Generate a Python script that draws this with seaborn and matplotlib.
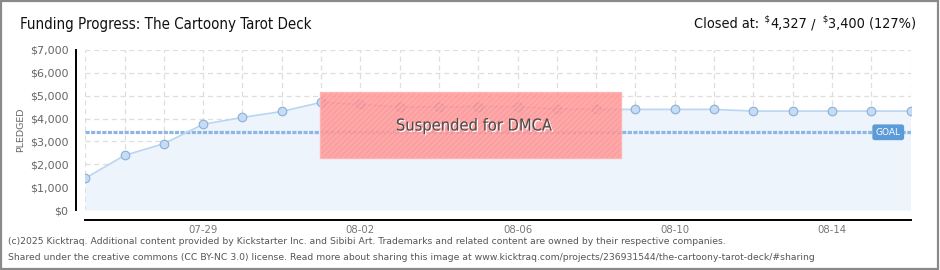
import matplotlib
matplotlib.use("Agg")
import matplotlib.pyplot as plt
import matplotlib.patches as mpatches
import matplotlib.patheffects as pe
import matplotlib.transforms as mtransforms
import seaborn as sns
import pandas as pd
from matplotlib.ticker import FuncFormatter, MultipleLocator

# ---------------- data ----------------
dates = ["07-26", "07-27", "07-28", "07-29", "07-30", "07-31", "08-01", "08-02",
         "08-03", "08-04", "08-05", "08-06", "08-07", "08-08", "08-09", "08-10",
         "08-11", "08-12", "08-13", "08-14", "08-15", "08-16"]
pledged = [1390, 2390, 2900, 3750, 4050, 4310, 4710, 4620,
           4510, 4510, 4520, 4520, 4420, 4400, 4400, 4400,
           4400, 4327, 4327, 4327, 4327, 4327]
goal = 3400
closed_amount = "4,327"
goal_amount = "3,400"
percent = "(127%)"
title = "Funding Progress: The Cartoony Tarot Deck"
suspended_label = "Suspended for DMCA"
label_every = 4
label_start = 3
footer1 = ("(c)2025 Kicktraq. Additional content provided by Kickstarter Inc. and Sibibi Art. "
           "Trademarks and related content are owned by their respective companies.")
footer2 = ("Shared under the creative commons (CC BY-NC 3.0) license. Read more about sharing this "
           "image at www.kicktraq.com/projects/236931544/the-cartoony-tarot-deck/#sharing")

df = pd.DataFrame({"day": range(len(dates)), "pledged": pledged})

# ---------------- style ----------------
sns.set_style("white")
plt.rcParams["font.family"] = ["DejaVu Sans"]
plt.rcParams["hatch.linewidth"] = 1.0
HEAD = ["DejaVu Sans"]
STRETCH = "condensed"

W, H = 940, 270
fig = plt.figure(figsize=(W / 100, H / 100), dpi=100)
ax = fig.add_axes([85.3 / W, 1 - 210 / H, (910.5 - 85.3) / W, 160 / H])

# area fill + line with markers
ax.fill_between(df["day"], df["pledged"], 0, color="#edf4fc", zorder=1, linewidth=0)
sns.lineplot(data=df, x="day", y="pledged", ax=ax, color="#b9d5f2", linewidth=1.2,
             marker="o", markersize=6.2, markerfacecolor="#c4dcf6",
             markeredgecolor="#8eaed3", markeredgewidth=0.8, zorder=3)

# goal line
ax.axhline(goal, color="#8fb6e0", linewidth=2.3, linestyle=(0, (1.3, 0.45)), zorder=2)

ax.set_xlim(0, len(dates) - 1)
ax.set_ylim(0, 7000)
ax.set_xlabel("")
ax.set_ylabel("PLEDGED", fontsize=6.8, color="#666666", labelpad=3)

# grid
ax.set_xticks(range(len(dates)))
ax.yaxis.set_major_locator(MultipleLocator(1000))
ax.yaxis.set_minor_locator(MultipleLocator(500))
ax.grid(True, which="major", color="#dedede", linestyle=(0, (4, 3)), linewidth=0.9)
ax.set_axisbelow(True)

ax.set_xticklabels([d if (i - label_start) % label_every == 0 else ""
                    for i, d in enumerate(dates)])
ax.yaxis.set_major_formatter(FuncFormatter(lambda v, p: "${:,.0f}".format(v)))

for s in ["top", "right"]:
    ax.spines[s].set_visible(False)
ax.spines["left"].set_position(("outward", 6.5))
ax.spines["bottom"].set_position(("outward", 7.2))
for s in ["left", "bottom"]:
    ax.spines[s].set_color("black")
    ax.spines[s].set_linewidth(1.4)

ax.tick_params(axis="y", which="major", direction="inout", length=4.5, width=1.2,
               color="black", labelsize=8, labelcolor="#666666", pad=3.5)
ax.tick_params(axis="y", which="minor", direction="out", length=2.2, width=1.0,
               color="#e00000")
ax.tick_params(axis="x", which="major", direction="inout", length=5, width=1.2,
               color="black", labelsize=7.3, labelcolor="#777777", pad=1.0)

# suspended overlay
rect = mpatches.Rectangle((0.2845, 0.325), 0.365, 0.412, transform=ax.transAxes,
                          facecolor="#ff8c8c", alpha=0.82, edgecolor="#ffb0b0",
                          hatch="//////", linewidth=1, zorder=5)
ax.add_patch(rect)
ax.text(0.4715, 0.525, suspended_label, transform=ax.transAxes, ha="center", va="center",
        fontsize=11.8, color="#4a4a4a", family=HEAD, fontstretch=STRETCH, zorder=6,
        path_effects=[pe.withSimplePatchShadow(offset=(1, -1), shadow_rgbFace="white",
                                               alpha=0.9)])

# GOAL badge
trans = mtransforms.blended_transform_factory(ax.transAxes, ax.transData)
ax.text(0.973, goal, "GOAL", transform=trans, ha="center", va="center", fontsize=6.5,
        color="white", zorder=7,
        bbox=dict(boxstyle="round,pad=0.3,rounding_size=0.2", facecolor="#5b9bd8",
                  edgecolor="#5b9bd8"))

# header
HY = 1 - 24 / H
FS = 10.8
FS2 = 10.4
fig.text(20 / W, HY, title, fontsize=FS, family=HEAD, fontstretch=STRETCH,
         color="#111111", ha="left", va="center")
t = fig.text(694 / W, HY, "Closed at:", fontsize=FS2, family=HEAD,
             fontstretch=STRETCH, color="#111111", ha="left", va="center")
parts = [("  $", 6.8, HY + 0.018), (closed_amount, FS2, HY), (" / ", FS2, HY),
         (" $", 6.8, HY + 0.018), (goal_amount + " " + percent, FS2, HY)]
prev = t
for txt, size, yy in parts:
    prev = ax.annotate(txt, xy=(1, yy), xycoords=(prev, "figure fraction"), ha="left",
                       va="center", fontsize=size, family=HEAD, fontstretch=STRETCH,
                       color="#111111", annotation_clip=False)

# footer
fig.text(8 / W, 1 - 242 / H, footer1, fontsize=6.65, color="#555555", ha="left", va="center")
fig.text(8 / W, 1 - 257 / H, footer2, fontsize=6.7, color="#555555", ha="left", va="center")

# border
fig.add_artist(mpatches.Rectangle((0.001, 0.003), 0.997, 0.994, transform=fig.transFigure,
                                  fill=False, edgecolor="#8a8a8a", linewidth=1.6))

fig.savefig("out.png", dpi=100)
